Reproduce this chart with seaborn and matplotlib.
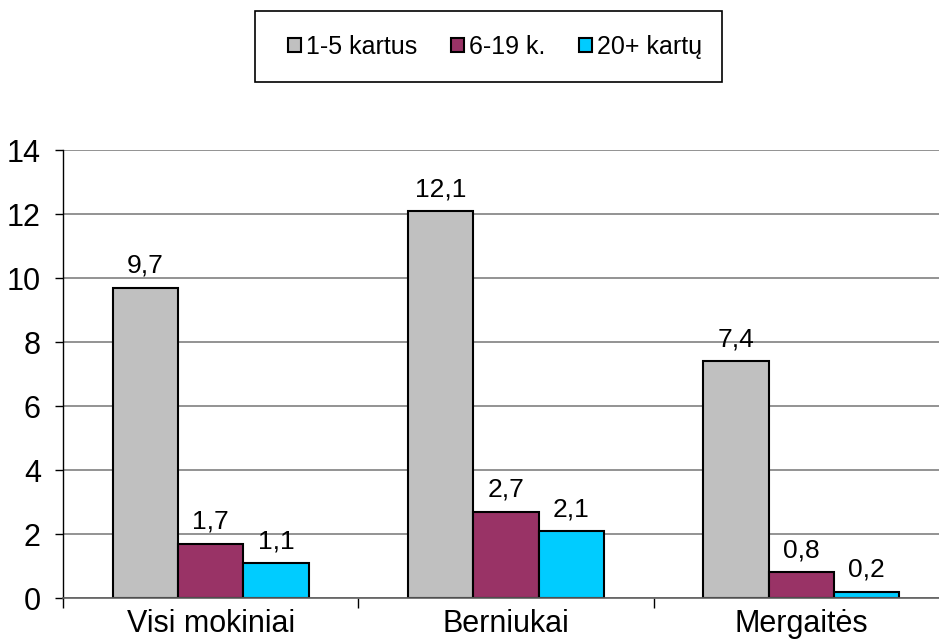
import matplotlib
matplotlib.use("Agg")
import matplotlib.pyplot as plt
import seaborn as sns
import pandas as pd
from matplotlib.ticker import FixedLocator
from matplotlib.patches import Patch, Rectangle

categories = ["Visi mokiniai", "Berniukai", "Mergaitės"]
series_names = ["1-5 kartus", "6-19 k.", "20+ kartų"]
v_1_5 = [9.7, 12.1, 7.4]
v_6_19 = [1.7, 2.7, 0.8]
v_20 = [1.1, 2.1, 0.2]
y_ticks = [0, 2, 4, 6, 8, 10, 12, 14]
colors = ["#c0c0c0", "#993366", "#00ccff"]

rows = []
for s, vals in zip(series_names, [v_1_5, v_6_19, v_20]):
    for c, v in zip(categories, vals):
        rows.append({"cat": c, "series": s, "value": v})
df = pd.DataFrame(rows)

sns.set_style("white")
plt.rcParams["font.family"] = ["Liberation Sans", "DejaVu Sans"]
plt.rcParams["text.color"] = "black"
plt.rcParams["xtick.color"] = "black"
plt.rcParams["ytick.color"] = "black"
plt.rcParams["axes.labelcolor"] = "black"

fig = plt.figure(figsize=(9.39, 6.43), dpi=100)
ax = fig.add_axes([63/939, 1-598/643, 886/939, (598-150)/643])

sns.barplot(data=df, x="cat", y="value", hue="series", order=categories,
            hue_order=series_names, palette=colors, width=0.663,
            edgecolor="black", linewidth=1.5, saturation=1, ax=ax, legend=False)

for cont in ax.containers:
    ax.bar_label(cont, labels=[f"{v:.1f}".replace(".", ",") for v in cont.datavalues],
                 padding=7, fontsize=19, color="black")

ax.set_ylim(0, 14)
ax.set_xlim(-0.5, 2.5)
ax.set_yticks(y_ticks)
ax.set_yticklabels([str(t) for t in y_ticks], fontsize=22)
ax.yaxis.grid(True, color="#808080", linewidth=1.2)
ax.set_axisbelow(True)
ax.set_xlabel("")
ax.set_ylabel("")
ax.tick_params(axis="y", length=6, width=1, color="black", labelcolor="black",
               direction="out", left=True, pad=10)
ax.tick_params(axis="x", which="major", length=0, labelsize=22, labelcolor="black", pad=8)
ax.xaxis.set_minor_locator(FixedLocator([-0.5, 0.5, 1.5, 2.5]))
ax.tick_params(axis="x", which="minor", length=7, width=1, color="black", direction="out", bottom=True)
for sp in ["top", "right"]:
    ax.spines[sp].set_visible(False)
ax.spines["left"].set_color("black")
ax.spines["bottom"].set_color("#606060")
ax.spines["left"].set_linewidth(1)
ax.spines["bottom"].set_linewidth(1.2)

# legend box
fig.patches.append(Rectangle((255/939, 1-82/643), (722-255)/939, (82-11)/643,
                             transform=fig.transFigure, facecolor="white",
                             edgecolor="black", linewidth=1.2, zorder=0))
handles = [Patch(facecolor=c, edgecolor="black", linewidth=1.5) for c in colors]
leg = fig.legend(handles, series_names, loc="center left", bbox_to_anchor=(288/939, 1-47/643),
                 ncol=3, fontsize=18, frameon=False, labelcolor="black",
                 handlelength=0.52, handleheight=0.52, handletextpad=0.2, columnspacing=1.35,
                 borderpad=0, borderaxespad=0)

fig.savefig("out.png", dpi=100)
